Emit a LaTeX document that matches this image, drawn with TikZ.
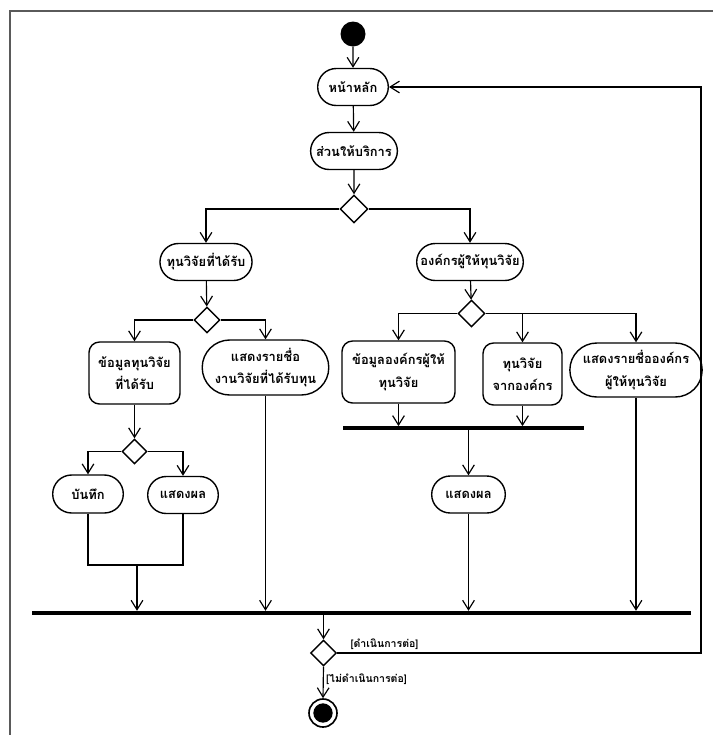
\documentclass[tikz,border=0pt]{standalone}
\usepackage{fontspec}
\newfontfamily\thaifont[Script=Thai]{Loma}
\usetikzlibrary{shapes.geometric,shapes.misc,arrows.meta}
\definecolor{framegrey}{RGB}{90,90,90}
\tikzset{
  act/.style={draw, rounded rectangle, line width=1.2pt, minimum height=1.11cm, inner xsep=4pt,
    font=\thaifont\bfseries\fontsize{11}{19}\selectfont, align=center},
  actbox/.style={draw, rectangle, rounded corners=9pt, line width=1.2pt, inner sep=3pt,
    font=\thaifont\bfseries\fontsize{11}{19}\selectfont, align=center},
  decision/.style={draw, diamond, line width=1.2pt, inner sep=0pt, fill=white},
  syncbar/.style={fill=black, inner sep=0pt},
  flow/.style={line width=1pt, -{Straight Barb[length=8pt,width=10pt]}},
  link/.style={line width=1pt},
  guard/.style={font=\thaifont\bfseries\fontsize{9}{11}\selectfont, inner sep=2pt},
}
\begin{document}
\begin{tikzpicture}[x=0.3cm, y=-0.3cm]
    \useasboundingbox (0,0) rectangle (71.3,73.5);
    % page frame
    \draw[framegrey, line width=1.6pt] (1.0,73.5) -- (1.0,1.1) -- (71.3,1.1);

    %, Top: start, main page, service ---
    \node[circle, fill=black, minimum size=0.75cm, inner sep=0pt] (start) at (35.3,3.4) {};
    \node[act, minimum width=2.4cm] (main) at (35.3,8.7) {หน้าหลัก};
    \node[act, minimum width=2.52cm] (service) at (35.4,15.1) {ส่วนให้บริการ};
    \node[decision, minimum size=0.84cm] (d1) at (35.4,20.9) {};

    %, Left: funded research ---
    \node[act, minimum width=2.58cm] (funded) at (20.6,26.2) {ทุนวิจัยที่ได้รับ};
    \node[decision, minimum size=0.78cm] (d2) at (20.7,32.0) {};
    \node[actbox, minimum width=2.73cm, minimum height=1.86cm] (fdata) at (13.45,37.3) {ข้อมูลทุนวิจัย\\ที่ได้รับ};
    \node[act, minimum width=3.15cm, minimum height=1.65cm] (flist) at (26.55,36.75) {แสดงรายชื่อ\\งานวิจัยที่ได้รับทุน};
    \node[decision, minimum size=0.75cm] (d3) at (13.45,45.15) {};
    \node[act, minimum width=2.4cm, minimum height=1.14cm] (save) at (8.8,49.4) {บันทึก};
    \node[act, minimum width=2.4cm] (show1) at (18.3,49.5) {แสดงผล};
    \coordinate (merge) at (13.7,56.5);

    %, Right: funding organisations ---
    \node[act, minimum width=3.48cm] (org) at (47.0,26.2) {องค์กรผู้ให้ทุนวิจัย};
    \node[decision, minimum size=0.81cm] (d4) at (47.15,31.35) {};
    \node[actbox, minimum width=3.39cm, minimum height=1.86cm] (odata) at (39.85,37.2) {ข้อมูลองค์กรผู้ให้\\ทุนวิจัย};
    \node[actbox, minimum width=2.37cm, minimum height=1.86cm] (ofund) at (52.25,37.4) {ทุนวิจัย\\จากองค์กร};
    \node[act, minimum width=3.6cm, minimum height=1.62cm] (olist) at (63.6,37.0) {แสดงรายชื่อองค์กร\\ผู้ให้ทุนวิจัย};
    \node[syncbar, minimum width=7.23cm, minimum height=0.1cm] (join1) at (46.35,42.8) {};
    \node[act, minimum width=2.49cm] (show2) at (46.85,49.45) {แสดงผล};

    %, Bottom: join, decision, end ---
    \node[syncbar, minimum width=19.77cm, minimum height=0.12cm] (bar2) at (36.15,61.3) {};
    \node[decision, minimum size=0.78cm] (d5) at (32.35,65.3) {};
    \node[circle, draw, line width=1.4pt, minimum size=0.84cm, inner sep=0pt,
      path picture={\fill (path picture bounding box.center) circle (0.29cm);}] (finish) at (32.3,71.3) {};
    \coordinate (loopc) at (70.1,65.3);

    % connectors
    \draw[flow] (start) -- (main);
    \draw[flow] (main) -- (service);
    \draw[flow] (service) -- (d1);
    \draw[flow] (d1.west) -| (funded.north);
    \draw[flow] (d1.east) -| (org.north);
    \draw[flow] (funded) -- (d2);
    \draw[flow] (d2.west) -| (fdata.north);
    \draw[flow] (d2.east) -| (flist.north);
    \draw[flow] (fdata) -- (d3);
    \draw[flow] (d3.west) -| (save.north);
    \draw[flow] (d3.east) -| (show1.north);
    \draw[link] (save.south) |- (merge) -| (show1.south);
    \draw[flow] (merge) -- (merge |- bar2.north);
    \draw[flow] (flist.south) -- (flist.south |- bar2.north);
    \draw[flow] (org) -- (d4);
    \draw[flow] (d4.west) -| (odata.north);
    \draw[flow] (d4.east) -| (olist.north);
    \draw[flow] (ofund.north |- d4.east) -- (ofund.north);
    \draw[flow] (odata.south) -- (odata.south |- join1.north);
    \draw[flow] (ofund.south) -- (ofund.south |- join1.north);
    \draw[flow] (show2.north |- join1.south) -- (show2.north);
    \draw[flow] (show2.south) -- (show2.south |- bar2.north);
    \draw[flow] (olist.south) -- (olist.south |- bar2.north);
    \draw[flow] (d5.north |- bar2.south) -- (d5.north);
    \draw[flow] (d5.south) -- node[guard, right, pos=0.4] {[ไม่ดำเนินการต่อ]} (finish.north);
    \draw[flow] (d5.east) -- node[guard, above, pos=0.13] {[ดำเนินการต่อ]} (loopc) |- (main.east);
\end{tikzpicture}
\end{document}
